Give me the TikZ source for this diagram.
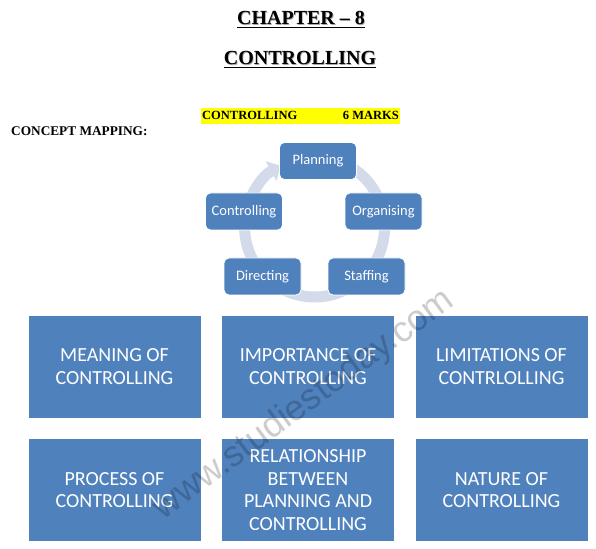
\documentclass[tikz,border=0pt]{standalone}
\usepackage{fontspec}
\setmainfont{Liberation Serif}
\newfontfamily\calfont{Carlito}
\newfontfamily\wmfont{Liberation Sans}
\usetikzlibrary{arrows.meta}
\definecolor{boxblue}{HTML}{4F81BD}
\definecolor{ringcol}{HTML}{D3DBEA}
\definecolor{hiyellow}{HTML}{FFFF00}
\tikzset{
  titletext/.style={font=\bfseries\fontsize{20}{24}\selectfont, inner sep=0pt, anchor=base},
  smalltitle/.style={font=\bfseries\fontsize{12.5}{14}\selectfont, inner sep=0pt},
  cyc/.style={draw=white, line width=0.8pt, fill=boxblue, rounded corners=5pt, minimum width=77pt, minimum height=37pt, text=white, font=\calfont\fontsize{14.5}{16}\selectfont, inner sep=0pt},
  bigbox/.style={draw=white, line width=0.8pt, fill=boxblue, minimum width=173pt, minimum height=103pt, text=white, font=\calfont\fontsize{20}{22.7}\selectfont, align=center, inner sep=0pt},
  ring/.style={draw=ringcol, line width=11pt, -{Triangle[width=22pt,length=11pt]}},
}
\begin{document}
\begin{tikzpicture}[x=1pt,y=1pt]
\useasboundingbox (0,0) rectangle (596,548);
% titles
\node[titletext, text=black!35] at (301.8,522.2) {CHAPTER – 8};
\node[titletext] (t1) at (301,523) {CHAPTER – 8};
\draw[line width=1pt] ([yshift=-3pt]t1.base west) -- ([yshift=-3pt]t1.base east);
\node[titletext, text=black!35] at (300.8,482.2) {CONTROLLING};
\node[titletext] (t2) at (300,483) {CONTROLLING};
\draw[line width=1pt] ([yshift=-3pt]t2.base west) -- ([yshift=-3pt]t2.base east);
% highlight
\fill[hiyellow] (201,424) rectangle (400,440);
\node[smalltitle, anchor=base west] (hl1) at (202,428) {CONTROLLING};
\node[smalltitle, anchor=base east] (hl2) at (399,428) {6 MARKS};
\node[smalltitle, anchor=base west, font=\bfseries\fontsize{13.3}{14}\selectfont] (cm) at (11,412) {CONCEPT MAPPING:};
% cycle ring
\coordinate (c) at (314.6,321);
\draw[ring] (c) ++(80:70) arc[start angle=80, end angle=-241, radius=70];
% cycle nodes
\node[cyc] (plan) at (318,387) {Planning};
\node[cyc] (org) at (383.5,336.5) {Organising};
\node[cyc] (staff) at (366.5,271.5) {Staffing};
\node[cyc] (dir) at (262.5,271.5) {Directing};
\node[cyc] (ctrl) at (244,336.5) {Controlling};
% big boxes
\node[bigbox] (b1) at (114.5,181.5) {MEANING OF\\CONTROLLING};
\node[bigbox] (b2) at (308,181.5) {IMPORTANCE OF\\CONTROLLING};
\node[bigbox] (b3) at (501.5,181.5) {LIMITATIONS OF\\CONTRLOLLING};
\node[bigbox] (b4) at (114.5,58) {PROCESS OF\\CONTROLLING};
\node[bigbox] (b5) at (308,58) {RELATIONSHIP\\BETWEEN\\PLANNING AND\\CONTROLLING};
\node[bigbox] (b6) at (501.5,58) {NATURE OF\\CONTROLLING};
% watermark
\node[rotate=36.4, text=black, opacity=0.2, font=\wmfont\fontsize{36}{40}\selectfont] (wm) at (304,143) {www.studiestoday.com};
\end{tikzpicture}
\end{document}
